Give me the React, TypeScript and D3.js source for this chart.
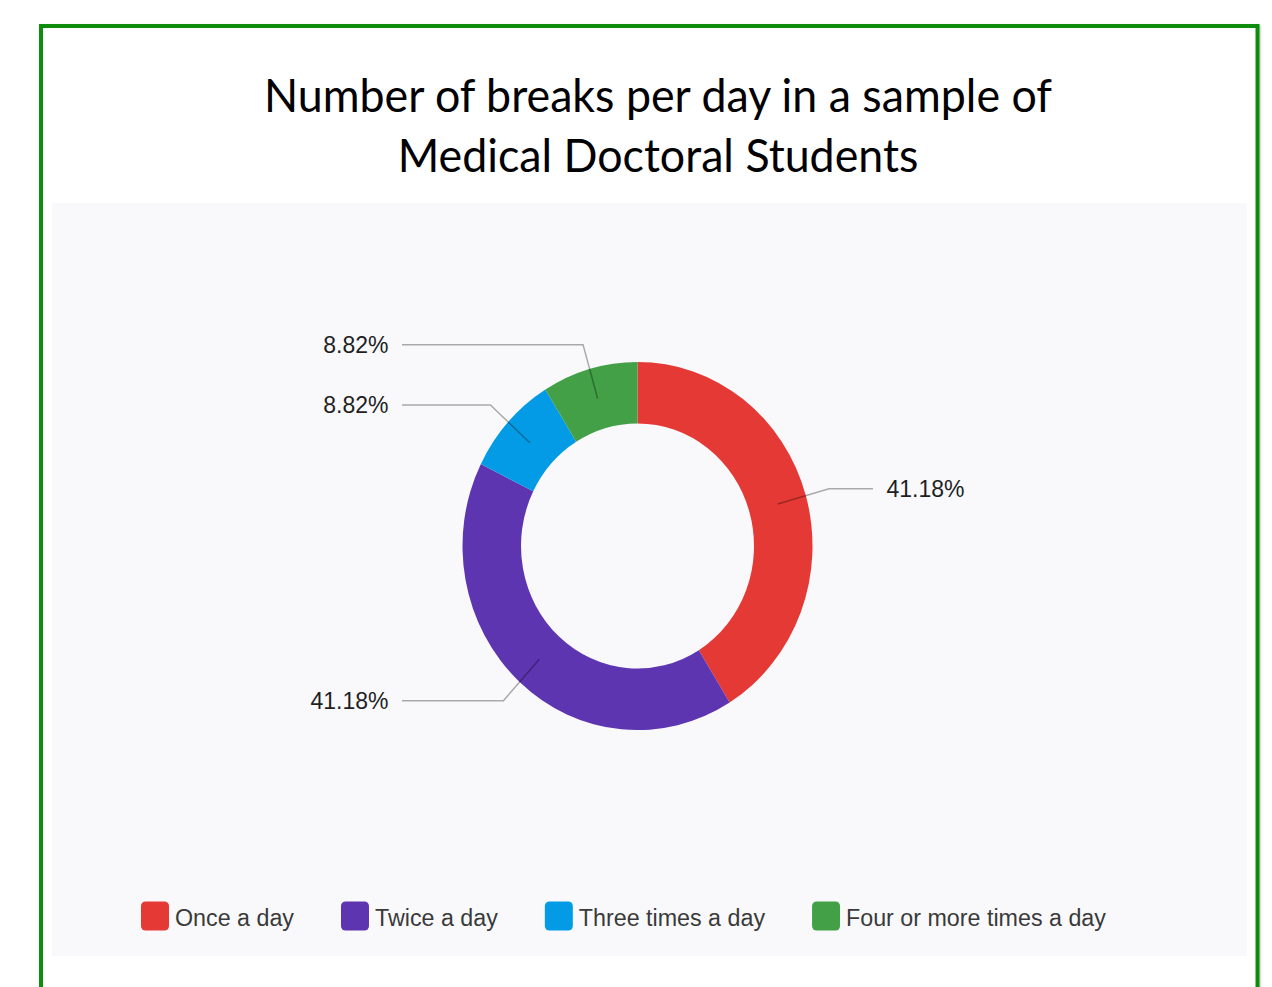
import React from "react";
import * as d3 from "d3";

const titleLines = ["Number of breaks per day in a sample of", "Medical Doctoral Students"];
const categories = ["Once a day", "Twice a day", "Three times a day", "Four or more times a day"];
const counts = [14, 14, 3, 3];
const colors = ["#E53935", "#5E35B1", "#039BE5", "#43A047"];

const W = 1272;
const H = 987;

function measure(text: string, font: string): number {
  const c = document.createElement("canvas").getContext("2d");
  if (!c) return text.length * 10;
  c.font = font;
  return c.measureText(text).width;
}

export default function App() {
  const cx = 637.5;
  const cy = 546;
  const sy = 1.052;
  const rOuter = 175;
  const rInner = 116.5;
  const rMid = (rOuter + rInner) / 2;
  const rElbow = 199;
  const hx = 235.5;

  const total = d3.sum(counts);
  const pie = d3.pie<number>().sort(null).value((d) => d).startAngle(0).endAngle(2 * Math.PI);
  const arcs = pie(counts);
  const arcGen = d3.arc<d3.PieArcDatum<number>>().innerRadius(rInner).outerRadius(rOuter);

  // font sizes fitted to reference widths
  const titleFamily = "Lato, 'Open Sans', sans-serif";
  const titleSize = (100 * 792) / measure(titleLines[0], `100px ${titleFamily}`);
  const uiFamily = "'Liberation Sans', Arial, sans-serif";
  const legendSize = (100 * 260) / measure(categories[3], `100px ${uiFamily}`);
  const labelSize = (100 * 78) / measure("41.18%", `100px ${uiFamily}`);

  // legend layout
  const legendX0 = 141;
  const sq = 28;
  const gapSqText = 6;
  const gapItems = 47;
  const legendY = 916;
  let lx = legendX0;
  const legendItems = categories.map((c, i) => {
    const tw = measure(c, `${legendSize}px ${uiFamily}`);
    const item = { x: lx, w: tw, label: c, color: colors[i] };
    lx += sq + gapSqText + tw + gapItems;
    return item;
  });

  return (
    <svg
      width={W}
      height={H}
      style={{ position: "absolute", left: 0, top: 0, background: "#ffffff" }}
    >
      <defs>
        <filter id="shadow" x="-5%" y="-5%" width="110%" height="110%">
          <feDropShadow dx="1" dy="1" stdDeviation="1.2" floodColor="#000" floodOpacity="0.25" />
        </filter>
      </defs>
      <rect
        x={41}
        y={26}
        width={1216.5}
        height={1100}
        fill="#ffffff"
        stroke="#0B8C0B"
        strokeWidth={4}
        filter="url(#shadow)"
      />
      <rect x={52} y={203} width={1195} height={753} fill="#F9F9FC" />

      {titleLines.map((t, i) => (
        <text
          key={i}
          transform={`translate(658,${112 + i * 59.5}) scale(1,${sy})`}
          textAnchor="middle"
          fontFamily={titleFamily}
          fontSize={titleSize}
          fill="#000"
        >
          {t}
        </text>
      ))}

      <g transform={`translate(${cx},${cy}) scale(1,${sy})`}>
        {arcs.map((a, i) => (
          <path key={i} d={arcGen(a) || ""} fill={colors[i]} />
        ))}
      </g>

      {arcs.map((a, i) => {
        const m = (a.startAngle + a.endAngle) / 2;
        const sx = Math.sin(m);
        const syd = -Math.cos(m);
        const side = sx >= 0 ? 1 : -1;
        const p1 = [cx + sx * rMid, cy + syd * rMid * sy];
        const p2 = [cx + sx * rElbow, cy + syd * rElbow * sy];
        const p3 = [cx + side * hx, p2[1]];
        const pct = ((counts[i] / total) * 100).toFixed(2) + "%";
        return (
          <g key={i}>
            <polyline
              points={[p1, p2, p3].map((p) => p.join(",")).join(" ")}
              fill="none"
              stroke="rgba(0,0,0,0.32)"
              strokeWidth={1.5}
            />
            <text
              transform={`translate(${p3[0] + side * 13.5},${p3[1]}) scale(1,${sy})`}
              dominantBaseline="central"
              textAnchor={side > 0 ? "start" : "end"}
              fontFamily={uiFamily}
              fontSize={labelSize}
              fill="#1f1f1f"
            >
              {pct}
            </text>
          </g>
        );
      })}

      {legendItems.map((it, i) => (
        <g key={i}>
          <rect
            x={it.x}
            y={legendY - 14.5}
            width={sq}
            height={29}
            rx={4.5}
            fill={it.color}
          />
          <text
            transform={`translate(${it.x + sq + gapSqText},${legendY + 1}) scale(1,${sy})`}
            dominantBaseline="central"
            fontFamily={uiFamily}
            fontSize={legendSize}
            fill="#3a3a3a"
          >
            {it.label}
          </text>
        </g>
      ))}
    </svg>
  );
}
